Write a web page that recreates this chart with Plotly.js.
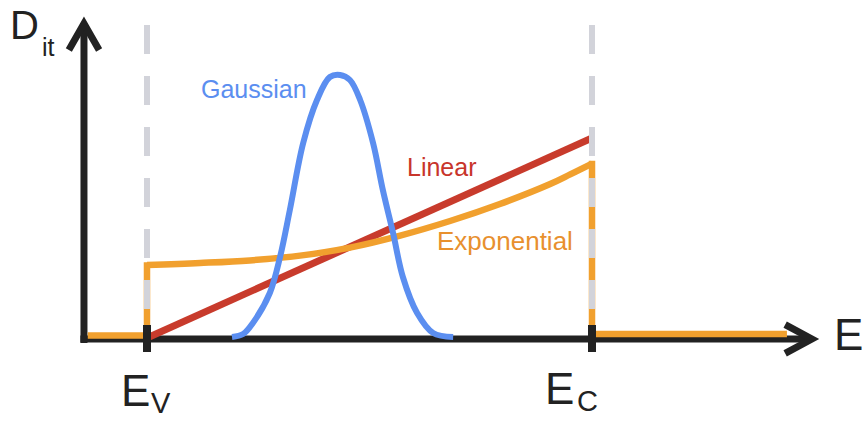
<!DOCTYPE html>
<html>
<head>
<meta charset="utf-8">
<script src="https://cdn.plot.ly/plotly-3.0.1.min.js"></script>
<style>
  html, body { margin: 0; padding: 0; background: #ffffff; }
  #chart { width: 862px; height: 421px; }
</style>
</head>
<body>
<div id="chart"></div>
<script>
// Energy is normalised across the band gap: E_V = 0, E_C = 1. D_it in arbitrary units.
const bandEdges = [0, 1];
const bandEdgeLabels = ['V', 'C'];

// Gaussian distribution of interface traps around mid-gap
const energyGauss = [0.191, 0.216, 0.238, 0.276, 0.299, 0.321, 0.351, 0.382, 0.411, 0.434,
                     0.456, 0.479, 0.508, 0.530, 0.553, 0.575, 0.607, 0.643, 0.688];
const ditGauss    = [0.005, 0.02, 0.075, 0.225, 0.405, 0.64, 0.975, 1.19, 1.305, 1.315,
                     1.29, 1.19, 0.975, 0.74, 0.525, 0.305, 0.125, 0.025, 0.005];

// Linear distribution rising from E_V to E_C
const energyLin = [0, 1];
const ditLin    = [0, 1.0];

// Exponential distribution inside the gap
const energyExp = [0, 0.119, 0.231, 0.344, 0.456, 0.569, 0.681, 0.793, 0.906, 0.951, 1];
const ditExp    = [0.365, 0.375, 0.388, 0.412, 0.452, 0.512, 0.585, 0.67, 0.77, 0.818, 0.872];

// ...and zero outside it (step edges at E_V and E_C)
const energyOutside = [-0.133, 0, 0, null, 1, 1, 1.438];
const ditOutside    = [0.012, 0.012, 0.379, null, 0.886, 0.02, 0.02];

// Plot frame (data units)
const xRange = [-0.3303, 1.6067];
const yRange = [-0.415, 1.69];
const axisOriginE = -0.1416;
const axisOriginD = -0.005;
const axisEndE = 1.492;
const axisEndD = 1.572;
const dashTop = 1.565;
const dashBottom = 0.06;

const BLUE = '#5b8ef0';
const RED = '#c83b2c';
const ORANGE = '#f1a02e';
const GREY = '#d2d3da';
const INK = '#222222';
const FONT = 'Liberation Sans, Arial, Helvetica, sans-serif';

const traces = [
  { x: energyLin, y: ditLin, mode: 'lines', line: { color: RED, width: 7 }, hoverinfo: 'skip' },
  { x: energyOutside, y: ditOutside, mode: 'lines', connectgaps: false,
    line: { color: ORANGE, width: 6.5, shape: 'linear' }, hoverinfo: 'skip' },
  { x: energyExp, y: ditExp, mode: 'lines', line: { color: ORANGE, width: 6.5, shape: 'spline', smoothing: 1 }, hoverinfo: 'skip' },
  { x: energyGauss, y: ditGauss, mode: 'lines', line: { color: BLUE, width: 6, shape: 'spline', smoothing: 1 }, hoverinfo: 'skip' }
];

// Dashed guide lines at the band edges
bandEdges.forEach(e => {
  traces.push({
    x: [e, e], y: [dashTop, dashBottom], mode: 'lines',
    line: { color: GREY, width: 6, dash: '29px,22px' }, hoverinfo: 'skip'
  });
});

const shapes = [
  // axes
  { type: 'line', xref: 'x', yref: 'y', x0: axisOriginE, y0: -0.025, x1: axisOriginE, y1: axisEndD,
    line: { color: INK, width: 7 }, layer: 'below' },
  { type: 'line', xref: 'x', yref: 'y', x0: axisOriginE - 0.008, y0: axisOriginD, x1: axisEndE, y1: axisOriginD,
    line: { color: INK, width: 7 }, layer: 'below' },
  // arrow heads
  { type: 'path', xref: 'x', yref: 'y',
    path: `M ${axisOriginE - 0.034},1.44 L ${axisOriginE},${axisEndD} L ${axisOriginE + 0.034},1.44`,
    line: { color: INK, width: 7 }, layer: 'above' },
  { type: 'path', xref: 'x', yref: 'y',
    path: `M 1.434,${axisOriginD + 0.072} L ${axisEndE + 0.002},${axisOriginD} L 1.434,${axisOriginD - 0.072}`,
    line: { color: INK, width: 7 }, layer: 'above' }
];

// Band-edge tick marks
bandEdges.forEach(e => {
  shapes.push({ type: 'line', xref: 'x', yref: 'y', x0: e, y0: 0.065, x1: e, y1: -0.07,
    line: { color: INK, width: 8 }, layer: 'above' });
});

function label(text, px, py, size, color) {
  return { text: text, xref: 'paper', yref: 'paper', x: px / 862, y: 1 - py / 421,
    xanchor: 'center', yanchor: 'middle', showarrow: false, borderpad: 0,
    font: { family: FONT, size: size, color: color } };
}

const annotations = [
  label('Gaussian', 254, 89, 25, BLUE),
  label('Linear', 442, 167, 25, '#c8352b'),
  label('Exponential', 505, 241, 26, '#e8902e'),
  label('D', 24, 25, 40, INK),
  label('it', 48, 47, 25, INK),
  label('E', 848, 334, 44, INK),
  label('E', 135, 390, 44, INK),
  label(bandEdgeLabels[0], 161, 403, 29, INK),
  label('E', 559, 388, 44, INK),
  label(bandEdgeLabels[1], 587, 401, 29, INK)
];

const layout = {
  width: 862, height: 421,
  margin: { l: 0, r: 0, t: 0, b: 0, pad: 0 },
  paper_bgcolor: '#ffffff', plot_bgcolor: '#ffffff',
  showlegend: false,
  xaxis: { range: xRange, visible: false, fixedrange: true },
  yaxis: { range: yRange, visible: false, fixedrange: true },
  shapes: shapes,
  annotations: annotations
};

Plotly.newPlot('chart', traces, layout, { staticPlot: true, displayModeBar: false });
</script>
</body>
</html>
